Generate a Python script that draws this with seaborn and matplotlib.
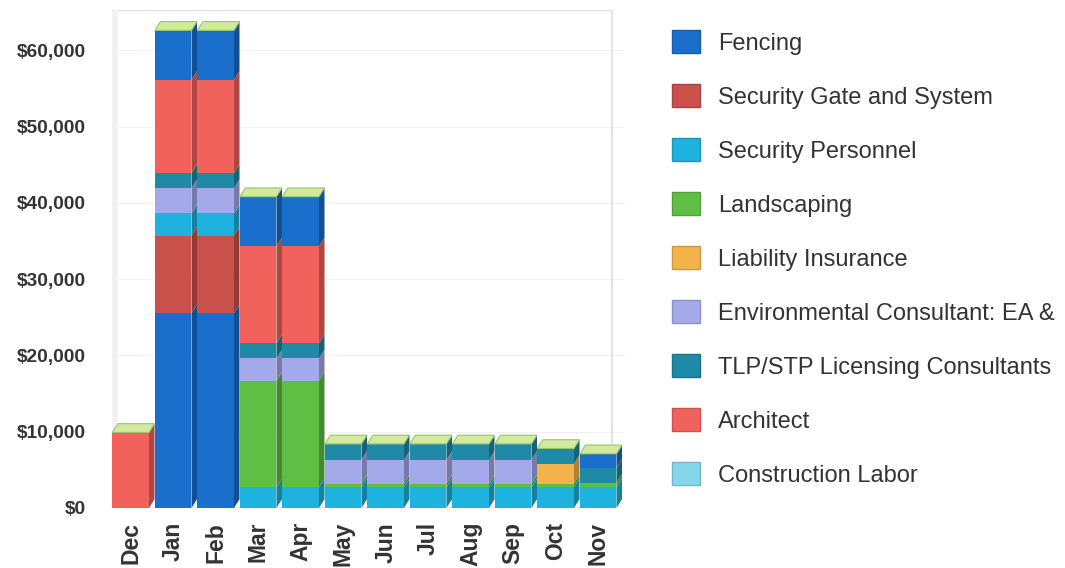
import numpy as np
import matplotlib
matplotlib.use("Agg")
import matplotlib.pyplot as plt
import seaborn as sns
from matplotlib.patches import Polygon, Rectangle, Patch
from matplotlib.ticker import FuncFormatter
from matplotlib.colors import to_rgb

# ---- data -------------------------------------------------------------
months = ["Dec", "Jan", "Feb", "Mar", "Apr", "May", "Jun", "Jul", "Aug", "Sep", "Oct", "Nov"]

fencing            = [0, 25500, 25500, 0, 0, 0, 0, 0, 0, 0, 0, 0]
security_gate      = [0, 10200, 10200, 0, 0, 0, 0, 0, 0, 0, 0, 0]
security_personnel = [0, 2900, 2900, 2700, 2700, 2700, 2700, 2700, 2700, 2700, 2700, 2700]
landscaping        = [0, 0, 0, 14000, 14000, 500, 500, 500, 500, 500, 500, 600]
liability          = [0, 0, 0, 0, 0, 0, 0, 0, 0, 0, 2600, 0]
environmental      = [0, 3300, 3300, 2900, 2900, 3100, 3100, 3100, 3100, 3100, 0, 0]
tlp_stp            = [0, 2000, 2000, 2000, 2000, 2100, 2100, 2100, 2100, 2100, 2000, 2000]
architect          = [9900, 12200, 12200, 12700, 12700, 0, 0, 0, 0, 0, 0, 0]
construction_labor = [0, 0, 0, 0, 0, 0, 0, 0, 0, 0, 0, 0]
other              = [0, 6500, 6500, 6500, 6500, 0, 0, 0, 0, 0, 0, 1800]

series_names = ["Fencing", "Security Gate and System", "Security Personnel",
                "Landscaping", "Liability Insurance", "Environmental Consultant: EA &",
                "TLP/STP Licensing Consultants", "Architect", "Construction Labor", "Other"]
series_values = [fencing, security_gate, security_personnel, landscaping, liability,
                 environmental, tlp_stp, architect, construction_labor, other]
series_colors = ["#1a6fcc", "#c9504b", "#1db3de", "#5fbf45", "#f4b24a",
                 "#a4a9ea", "#1e8aa6", "#f2625c", "#84d6ea", "#1a6fcc"]
legend_count = 9

yticks = [0, 10000, 20000, 30000, 40000, 50000, 60000]

# ---- style ------------------------------------------------------------
sns.set_theme(style="white")
plt.rcParams["font.family"] = ["Liberation Sans", "DejaVu Sans"]
text_color = "#333333"

W = 0.86      # bar front width (category units)
DX = 0.13     # depth offset, x
DY = 1150     # depth offset, y (dollars)
cap_color = "#d2eaa0"


def shade(c, f=0.72):
    r, g, b = to_rgb(c)
    return (r * f, g * f, b * f)


fig = plt.figure(figsize=(10.65, 5.68), dpi=100)
ax = fig.add_axes([112 / 1065, 1 - 508 / 568, 513 / 1065, 498 / 568])

vals = np.array(series_values, dtype=float)
cum = np.cumsum(vals, axis=0)
bottoms = cum - vals
n_series, n_months = vals.shape
xpos = np.arange(n_months)

# light back wall with faint gridlines
for t in yticks[1:]:
    ax.axhline(t, color="#f1f1f1", lw=0.8, zorder=0)
ax.add_patch(Rectangle((0, 0), 0.975, 1.0, transform=ax.transAxes, fill=False,
                       ec="#e4e4e4", lw=1.6, zorder=0))
ax.add_patch(Rectangle((0, 0), 0.012, 1.0, transform=ax.transAxes,
                       fc="#f2f2f2", ec="none", zorder=0))

# front faces: cumulative totals, tallest layer first so lower layers sit on top
for k in range(n_series - 1, -1, -1):
    sns.barplot(x=months, y=cum[k], color=series_colors[k], saturation=1,
                width=W, linewidth=0, errorbar=None, ax=ax, zorder=3)

# side faces of every stacked segment
for k in range(n_series):
    for i in range(n_months):
        if vals[k, i] <= 0:
            continue
        xr = xpos[i] + W / 2
        b, t = bottoms[k, i], cum[k, i]
        ax.add_patch(Polygon([(xr, b), (xr + DX, b + DY), (xr + DX, t + DY), (xr, t)],
                             closed=True, fc=shade(series_colors[k]), ec="none", zorder=2))

# top caps
totals = cum[-1]
for i in range(n_months):
    T = totals[i]
    xl, xr = xpos[i] - W / 2, xpos[i] + W / 2
    ax.add_patch(Polygon([(xl, T), (xl + DX, T + DY), (xr + DX, T + DY), (xr, T)],
                         closed=True, fc=cap_color, ec="#9cc46a", lw=0.8, zorder=4))

ax.set_xlim(-0.44, -0.44 + 513 / 42.5)
ax.set_ylim(0, 65270)
ax.set_yticks(yticks)
ax.yaxis.set_major_formatter(FuncFormatter(lambda v, p: f"${v:,.0f}"))
ax.set_xlabel("")
ax.set_ylabel("")
for s in ax.spines.values():
    s.set_visible(False)
ax.tick_params(axis="y", length=0, pad=19, labelsize=13.8, labelcolor=text_color)
ax.tick_params(axis="x", length=0, pad=10, labelsize=16.5, labelcolor=text_color)
for lab in ax.get_yticklabels():
    lab.set_fontweight("bold")
for lab in ax.get_xticklabels():
    lab.set_fontweight("bold")
    lab.set_rotation(90)
    lab.set_va("top")
    lab.set_ha("center")

handles = [Patch(facecolor=series_colors[k], edgecolor=shade(series_colors[k], 0.85),
                 label=series_names[k]) for k in range(legend_count)]
fig.legend(handles=handles, loc="upper left", bbox_to_anchor=(672 / 1065, 1 - 30 / 568),
           frameon=False, fontsize=17, handlelength=1.2, handleheight=1.15,
           handletextpad=0.75, labelspacing=1.24, borderpad=0, borderaxespad=0,
           labelcolor=text_color)

fig.savefig("out.png", dpi=100, facecolor="white")
